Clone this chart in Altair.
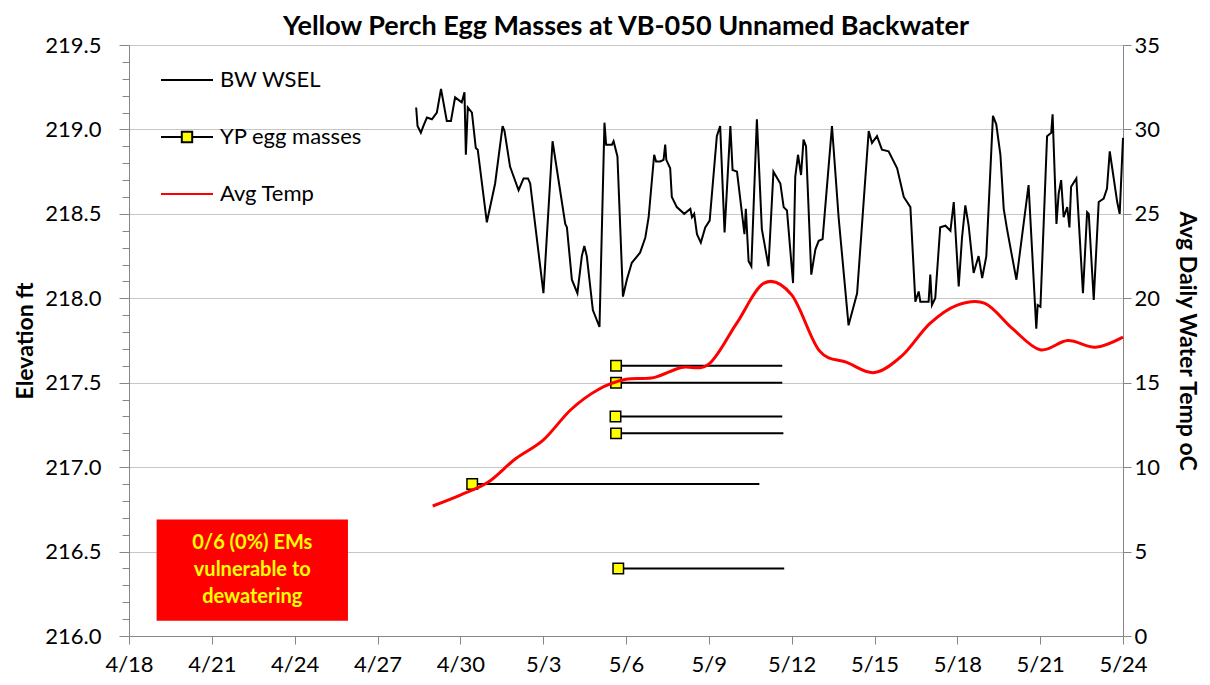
import altair as alt
import pandas as pd

START = pd.Timestamp("2020-04-18")

# BW WSEL (days after 4/18, elevation ft)
wsel_day = [10.40, 10.45, 10.57, 10.66, 10.79, 10.97, 11.15, 11.30, 11.51, 11.66,
            11.81, 12.05, 12.15, 12.20, 12.27, 12.42, 12.56, 12.63, 12.96, 13.26,
            13.53, 13.60, 13.80, 14.11, 14.29, 14.45, 14.53, 15.01, 15.34, 15.80,
            15.86, 16.04, 16.24, 16.40, 16.49, 16.58, 16.80, 17.04, 17.22, 17.28,
            17.49, 17.55, 17.69, 17.89, 18.03, 18.21, 18.51, 18.70, 18.82, 19.02,
            19.09, 19.24, 19.36, 19.42, 19.46, 19.60, 19.66, 19.84, 20.11, 20.33,
            20.39, 20.47, 20.57, 20.71, 20.87, 21.03, 21.29, 21.41, 21.57, 21.78,
            21.86, 22.02, 22.29, 22.34, 22.44, 22.54, 22.74, 22.92, 23.16, 23.34,
            23.59, 23.71, 23.83, 24.05, 24.13, 24.23, 24.34, 24.43, 24.52, 24.71,
            24.86, 24.98, 25.12, 25.46, 25.70, 26.06, 26.37, 26.79, 26.91, 27.09,
            27.27, 27.51, 27.82, 28.06, 28.30, 28.48, 28.60, 28.66, 28.96, 29.02,
            29.08, 29.20, 29.38, 29.57, 29.75, 29.87, 30.05, 30.17, 30.29, 30.41,
            30.59, 30.77, 30.90, 31.05, 31.29, 31.41, 31.56, 31.68, 31.80, 31.98,
            32.14, 32.58, 32.86, 32.91, 33.01, 33.25, 33.40, 33.45, 33.59, 33.67,
            33.76, 33.85, 33.98, 34.06, 34.12, 34.31, 34.55, 34.70, 34.76, 34.94,
            35.12, 35.30, 35.42, 35.52, 35.61, 35.79, 35.88, 36.00]
wsel_elev = [219.13, 219.02, 218.98, 219.02, 219.07, 219.06, 219.10, 219.24, 219.05, 219.05,
             219.19, 219.16, 219.22, 218.85, 219.13, 219.10, 218.89, 218.88, 218.45, 218.68,
             219.02, 218.99, 218.78, 218.64, 218.71, 218.71, 218.68, 218.03, 218.93, 218.44,
             218.42, 218.11, 218.03, 218.25, 218.31, 218.25, 217.93, 217.83, 219.04, 218.91,
             218.91, 218.93, 218.84, 218.01, 218.11, 218.21, 218.27, 218.36, 218.48, 218.85,
             218.81, 218.81, 218.82, 218.91, 218.82, 218.77, 218.60, 218.54, 218.50, 218.53,
             218.48, 218.50, 218.38, 218.33, 218.42, 218.46, 218.96, 219.02, 218.39, 219.02,
             218.76, 218.75, 218.38, 218.53, 218.22, 218.19, 219.06, 218.41, 218.19, 218.75,
             218.68, 218.54, 218.52, 218.09, 218.72, 218.85, 218.73, 218.94, 218.90, 218.14,
             218.29, 218.34, 218.35, 219.02, 218.48, 217.84, 218.03, 218.99, 218.92, 218.96,
             218.88, 218.87, 218.77, 218.60, 218.54, 217.98, 218.04, 217.98, 217.98, 218.14,
             217.96, 218.00, 218.42, 218.43, 218.40, 218.57, 218.07, 218.36, 218.55, 218.43,
             218.15, 218.25, 218.12, 218.25, 219.08, 219.03, 218.85, 218.53, 218.41, 218.25,
             218.11, 218.67, 217.82, 217.96, 217.95, 218.96, 218.98, 219.09, 218.44, 218.62,
             218.70, 218.48, 218.54, 218.42, 218.66, 218.71, 218.03, 218.51, 218.50, 217.99,
             218.57, 218.59, 218.65, 218.87, 218.77, 218.57, 218.50, 218.95]

# Avg daily water temperature (days after 4/18, deg C)
temp_day = list(range(11, 37))
temp_c = [7.7, 8.35, 9.1, 10.5, 11.6, 13.4, 14.6, 15.2, 15.3, 15.9, 16.1, 18.5, 20.9,
          20.2, 16.9, 16.2, 15.6, 16.6, 18.5, 19.6, 19.7, 18.2, 16.95, 17.5, 17.1, 17.7]

# YP egg masses
egg_start = [12.43, 17.64, 17.64, 17.62, 17.64, 17.72]
egg_end = [22.83, 23.66, 23.66, 23.66, 23.70, 23.73]
egg_elev = [216.9, 217.6, 217.5, 217.3, 217.2, 216.4]

# annotation box
box_day = [1.0, 7.93]
box_elev = [216.69, 216.09]
box_text_elev = 216.55
box_text = "0/6 (0%) EMs\nvulnerable to\ndewatering"

series = ["BW WSEL", "YP egg masses", "Avg Temp"]
tick_days = list(range(0, 37, 3))


def to_t(d):
    return START + pd.Timedelta(days=d)


wsel_df = pd.DataFrame({"t": [to_t(d) for d in wsel_day], "elev": wsel_elev})
temp_df = pd.DataFrame({"t": [to_t(d) for d in temp_day], "temp": temp_c})
egg_df = pd.DataFrame({"start": [to_t(d) for d in egg_start],
                       "end": [to_t(d) for d in egg_end], "elev": egg_elev})
box_df = pd.DataFrame({"t1": [to_t(box_day[0])], "t2": [to_t(box_day[1])],
                       "tm": [to_t((box_day[0] + box_day[1]) / 2)],
                       "e1": [box_elev[0]], "e2": [box_elev[1]],
                       "em": [box_text_elev], "txt": [box_text]})
leg_df = pd.DataFrame({"series": series, "t": [pd.Timestamp("2000-01-01")] * 3,
                       "elev": [100.0] * 3})

FONT = "Lato"
GRAY = "#868686"
TXT = "#000000"

tick_vals = [alt.DateTime(year=2020, month=to_t(d).month, date=to_t(d).day) for d in tick_days]
x_scale = alt.Scale(domain=[alt.DateTime(year=2020, month=4, date=18),
                            alt.DateTime(year=2020, month=5, date=24)])
x_axis = alt.Axis(values=tick_vals, format="%-m/%-d", title=None, labelFont=FONT,
                  labelFontSize=22, labelColor=TXT, tickSize=8, tickColor=GRAY,
                  domainColor=GRAY, labelPadding=10, grid=False, labelOverlap=False,
                  labelFlush=False, labelBound=False)

major_test = "abs(datum.value*2 - round(datum.value*2)) < 0.001"
left_vals = [round(216.0 + 0.1 * i, 1) for i in range(36)]
left_axis = alt.Axis(values=left_vals, title="Elevation ft",
                     labelExpr=f"({major_test}) ? format(datum.value, '.1f') : ''",
                     tickSize={"condition": {"test": major_test, "value": 10}, "value": 7},
                     gridOpacity={"condition": {"test": major_test, "value": 1}, "value": 0},
                     grid=True, gridColor="#c6c6c6", tickColor=GRAY, domainColor=GRAY,
                     labelFont=FONT, labelFontSize=22, labelColor=TXT, labelPadding=18,
                     titleFont=FONT, titleFontSize=23, titleFontWeight="bold", titleColor=TXT,
                     titleX=-104, titleBaseline="middle", titleAngle=270)
y_left_scale = alt.Scale(domain=[216.0, 219.5], nice=False, zero=False)


def yl(field):
    return alt.Y(field, type="quantitative", scale=y_left_scale, axis=left_axis)


def xt(field):
    return alt.X(field, type="temporal", scale=x_scale, axis=x_axis)


wsel = alt.Chart(wsel_df).mark_line(color="black", strokeWidth=2).encode(
    x=xt("t"), y=yl("elev"))

egg_rules = alt.Chart(egg_df).mark_rule(color="black", strokeWidth=2).encode(
    x=xt("start"), x2="end", y=yl("elev"))

egg_pts = alt.Chart(egg_df).mark_square(size=110, color="#ffff00", stroke="black",
                                         strokeWidth=1.5, opacity=1).encode(
    x=xt("start"), y=yl("elev"))

box = alt.Chart(box_df).mark_rect(color="#ff0000").encode(
    x=xt("t1"), x2="t2", y=yl("e1"), y2="e2")

box_lbl = alt.Chart(box_df).mark_text(color="#ffff00", font=FONT, fontSize=20,
                                      fontWeight="bold", lineBreak="\n", lineHeight=27,
                                      align="center", baseline="middle").encode(
    x=xt("tm"), y=yl("em"), text="txt:N")

leg = alt.Legend(orient="none", legendX=31, legendY=8, title=None, labelFont=FONT,
                 labelFontSize=22, labelColor=TXT, symbolSize=2704, symbolStrokeWidth=2,
                 rowPadding=19, labelOffset=6, padding=0)
leg_dom = series
legend_layer = alt.Chart(leg_df).mark_point(clip=True, opacity=1, filled=False).encode(
    x=xt("t"), y=yl("elev"),
    shape=alt.Shape("series:N", scale=alt.Scale(domain=leg_dom, range=[
        "M-1,0H1",
        "M-1,0H-0.2M0.2,0H1M-0.2,-0.2H0.2V0.2H-0.2Z",
        "M-1,0H1"]), legend=leg),
    stroke=alt.Stroke("series:N", scale=alt.Scale(domain=leg_dom,
                                                  range=["black", "black", "#ff0000"]), legend=leg),
    fill=alt.Fill("series:N", scale=alt.Scale(domain=leg_dom,
                                              range=["transparent", "#ffff00", "transparent"]), legend=leg),
)

right_axis = alt.Axis(orient="right", values=list(range(0, 36, 5)), title="Avg Daily Water Temp oC",
                      grid=False, tickSize=8, tickColor=GRAY, domainColor=GRAY,
                      labelFont=FONT, labelFontSize=22, labelColor=TXT, labelPadding=3,
                      titleFont=FONT, titleFontSize=23, titleFontWeight="bold", titleColor=TXT,
                      titleX=63, titleBaseline="middle", titleAngle=90)

temp = alt.Chart(temp_df).mark_line(color="#ff0000", strokeWidth=3, interpolate="cardinal").encode(
    x=xt("t"),
    y=alt.Y("temp:Q", scale=alt.Scale(domain=[0, 35], nice=False, zero=False), axis=right_axis))

left = alt.layer(wsel, egg_rules, box, box_lbl, legend_layer, egg_pts)

chart = alt.layer(left, temp).resolve_scale(y="independent").properties(
    width=994, height=591,
    padding={"left": 121, "top": 37, "right": 79, "bottom": 41},
    autosize=alt.AutoSizeParams(type="none"),
    title=alt.TitleParams("Yellow Perch Egg Masses at VB-050 Unnamed Backwater",
                          font=FONT, fontSize=27, fontWeight="bold", color=TXT,
                          anchor="middle", offset=-7),
).configure_view(fill="#f2f2f2", stroke=GRAY, strokeWidth=1).configure(background="white")

chart.save("out.html", embed_options={"renderer": "svg", "actions": False})
